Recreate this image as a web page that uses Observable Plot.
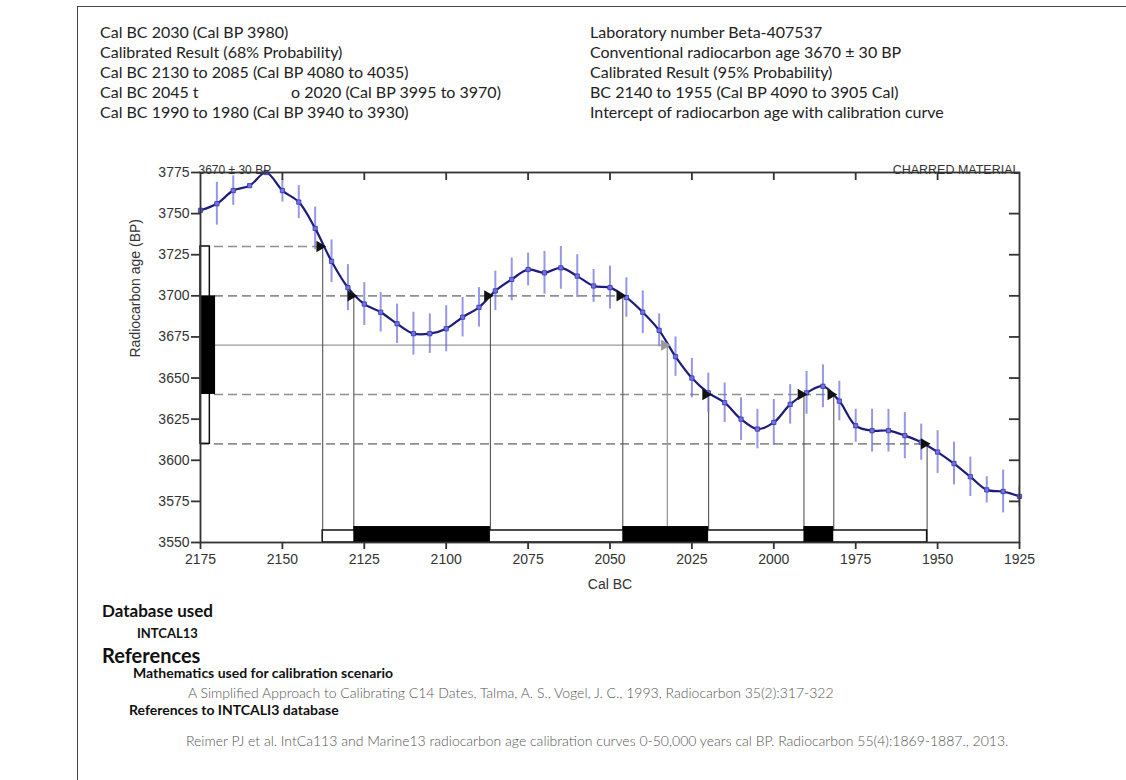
<!DOCTYPE html>
<html>
<head>
<meta charset="utf-8">
<script src="https://cdn.jsdelivr.net/npm/d3@7"></script>
<script src="https://cdn.jsdelivr.net/npm/@observablehq/plot@0.6"></script>
<style>
  html, body { margin: 0; padding: 0; background: #fff; }
  body { width: 1126px; height: 780px; position: relative; overflow: hidden; font-family: Lato, "Open Sans", sans-serif; color: #222; }
  .border { position: absolute; left: 77px; top: 6px; right: -2px; bottom: -2px; border-left: 1.5px solid #444; border-top: 1.5px solid #444; }
  .col { position: absolute; top: 22px; font-size: 16px; line-height: 20px; white-space: nowrap; }
  .ln { position: absolute; white-space: nowrap; line-height: 1.2; }
  .b { font-weight: 700; color: #111; }
  .lt { font-weight: 300; color: #555; font-size: 14px; }
  #chart { position: absolute; left: 80px; top: 150px; }
</style>
</head>
<body>
<div class="border"></div>
<div class="col" style="left:100px">
  <div>Cal BC 2030 (Cal BP 3980)</div>
  <div>Calibrated Result (68% Probability)</div>
  <div>Cal BC 2130 to 2085 (Cal BP 4080 to 4035)</div>
  <div><span style="display:inline-block;width:191px">Cal BC 2045 t</span>o 2020 (Cal BP 3995 to 3970)</div>
  <div>Cal BC 1990 to 1980 (Cal BP 3940 to 3930)</div>
</div>
<div class="col" style="left:590px">
  <div>Laboratory number Beta-407537</div>
  <div>Conventional radiocarbon age 3670 ± 30 BP</div>
  <div>Calibrated Result (95% Probability)</div>
  <div>BC 2140 to 1955 (Cal BP 4090 to 3905 Cal)</div>
  <div>Intercept of radiocarbon age with calibration curve</div>
</div>
<div id="chart"></div>
<div class="ln b" style="left:102px;top:601px;font-size:17px">Database used</div>
<div class="ln b" style="left:137px;top:626px;font-size:13px">INTCAL13</div>
<div class="ln b" style="left:102px;top:643px;font-size:20px">References</div>
<div class="ln b" style="left:133px;top:665px;font-size:14px">Mathematics used for calibration scenario</div>
<div class="ln lt" style="left:188px;top:685px">A Simplified Approach to Calibrating C14 Dates, Talma, A. S., Vogel, J. C., 1993, Radiocarbon 35(2):317-322</div>
<div class="ln b" style="left:129px;top:702px;font-size:14px">References to INTCALI3 database</div>
<div class="ln lt" style="left:186px;top:733px">Reimer PJ et al. IntCa113 and Marine13 radiocarbon age calibration curves 0-50,000 years cal BP. Radiocarbon 55(4):1869-1887., 2013.</div>
<script>
// Calibration curve (INTCAL13)
const years = [2175,2170,2165,2160,2155,2150,2145,2140,2135,2130,2125,2120,2115,2110,2105,2100,2095,2090,2085,2080,2075,2070,2065,2060,2055,2050,2045,2040,2035,2030,2025,2020,2015,2010,2005,2000,1995,1990,1985,1980,1975,1970,1965,1960,1955,1950,1945,1940,1935,1930,1925];
const ages = [3752,3756,3764,3767,3775,3764,3757,3741,3721,3705,3695,3690,3683,3677,3677,3680,3687,3693,3703,3710,3716,3714,3717,3712,3706,3705,3699,3690,3679,3663,3650,3641,3635,3625,3619,3623,3634,3641,3645,3636,3621,3618,3618,3615,3611,3605,3598,3590,3582,3581,3578];
const sigmas = [null,13,9,null,null,7,10,13,13,14,13,12,12,13,12,14,12,12,12,13,10,13,13,13,10,13,12,13,10,12,12,12,12,13,12,14,12,13,13,12,10,13,13,14,11,13,13,12,8,13,6];

// Sample
const sampleAge = 3670;
const sampleLabel = "3670 ± 30 BP";
const materialLabel = "CHARRED MATERIAL";
const oneSigma = [3640, 3700];
const twoSigma = [3610, 3730];

// Intercepts of the sigma levels with the curve (Cal BC)
const dashedAges = [3730, 3700, 3640, 3610];
const dashedEnds = [2137.7, 2046.1, 1981.7, 1953.2];
const interceptYears = [2137.7, 2128.2, 2086.5, 2046.1, 2019.9, 1990.8, 1981.7, 1953.2];
const interceptAges  = [3730, 3700, 3700, 3700, 3640, 3640, 3640, 3610];
const meanIntercept = 2032.5;

// Calibrated ranges (Cal BC)
const range95 = [[2137.7, 1953.2]];
const range68 = [[2128.2, 2086.5], [2046.1, 2019.9], [1990.8, 1981.7]];

const xTicks = [2175,2150,2125,2100,2075,2050,2025,2000,1975,1950,1925];
const yTicks = [3550,3575,3600,3625,3650,3675,3700,3725,3750,3775];

const curve = years.map((x, i) => ({x, y: ages[i], s: sigmas[i]}));
const bars = curve.filter(d => d.s != null);
const dashed = dashedAges.map((a, i) => ({age: a, end: dashedEnds[i]}));
const inter = interceptYears.map((x, i) => ({x, y: interceptAges[i]}));

const xMin = 2175, yMin = 3550;
const W = 1000, H = 450, mL = 120, mR = 61, mT = 22, mB = 58;
const pw = W - mL - mR, ph = H - mT - mB;
const bar95H = 7.3, bar68H = 9.7;   // heights in BP units
const left95W = 2.85, left68W = 4.6; // widths in years

const chart = Plot.plot({
  width: W, height: H,
  marginLeft: mL, marginRight: mR, marginTop: mT, marginBottom: mB,
  x: {domain: [2175, 1925]},
  y: {domain: [3550, 3775]},
  style: {fontFamily: "'Liberation Sans', Arial, sans-serif", fontSize: "14px", color: "#333", background: "transparent", overflow: "visible"},
  marks: [
    Plot.ruleY(dashed, {y: "age", x1: () => xMin, x2: "end", stroke: "#8f8f8f", strokeWidth: 1.6, strokeDasharray: "9,5"}),
    Plot.ruleY([sampleAge], {y: d => d, x1: () => xMin, x2: () => meanIntercept, stroke: "#9a9a9a", strokeWidth: 1.3}),
    Plot.ruleX(inter, {x: "x", y1: "y", y2: () => yMin, stroke: "#555", strokeWidth: 1.1}),
    Plot.ruleX([meanIntercept], {x: d => d, y1: () => sampleAge, y2: () => yMin + bar68H, stroke: "#9a9a9a", strokeWidth: 1.3}),
    Plot.rect(range95, {x1: d => d[0], x2: d => d[1], y1: () => yMin, y2: () => yMin + bar95H, fill: "white", stroke: "#111", strokeWidth: 1.5}),
    Plot.rect(range68, {x1: d => d[0], x2: d => d[1], y1: () => yMin, y2: () => yMin + bar68H, fill: "black"}),
    Plot.rect([twoSigma], {y1: d => d[0], y2: d => d[1], x1: () => xMin, x2: () => xMin - left95W, fill: "white", stroke: "#111", strokeWidth: 1.5}),
    Plot.rect([oneSigma], {y1: d => d[0], y2: d => d[1], x1: () => xMin, x2: () => xMin - left68W, fill: "black"}),
    Plot.ruleX(bars, {x: "x", y1: d => d.y - d.s, y2: d => d.y + d.s, stroke: "#7474dc", strokeOpacity: 0.75, strokeWidth: 2, clip: true}),
    Plot.line(curve, {x: "x", y: "y", stroke: "#1c1c7e", strokeWidth: 2.2, curve: "catmull-rom"}),
    Plot.dot(curve, {x: "x", y: "y", symbol: "square", r: 2.4, fill: "#7474dc", stroke: "#3434b4", strokeWidth: 0.8}),
    Plot.dot(inter, {x: "x", y: "y", symbol: "triangle", rotate: 90, r: 4.2, fill: "#111", dx: -3}),
    Plot.dot([{x: meanIntercept, y: sampleAge}], {x: "x", y: "y", symbol: "triangle", rotate: 90, r: 4.2, fill: "#9a9a9a", dx: -3}),
    Plot.frame({stroke: "#333", strokeWidth: 1.8}),
    Plot.axisX({anchor: "bottom", ticks: xTicks, tickSize: 7, tickPadding: 5, tickFormat: d => String(d), label: null, strokeWidth: 1.8}),
    Plot.axisY({anchor: "left", ticks: yTicks, tickSize: 9, tickPadding: 2, tickFormat: d => String(d), label: null, strokeWidth: 1.8}),
    Plot.ruleX(xTicks.slice(1, -1), {x: d => d, insetBottom: ph - 8, stroke: "#333", strokeWidth: 1.8}),
    Plot.ruleY(yTicks.slice(1, -1), {y: d => d, insetLeft: pw - 10, stroke: "#333", strokeWidth: 1.8}),
    Plot.text(["Radiocarbon age (BP)"], {frameAnchor: "left", rotate: -90, dx: -65, fontSize: 14, fill: "#333"}),
    Plot.text(["Cal BC"], {frameAnchor: "bottom", dy: 46, fontSize: 14, fill: "#333"}),
    Plot.text([sampleLabel], {frameAnchor: "top-left", textAnchor: "start", lineAnchor: "bottom", dx: -2, dy: 1, fontSize: 12, fill: "#333"}),
    Plot.text([materialLabel], {frameAnchor: "top-right", textAnchor: "end", lineAnchor: "bottom", dy: 1, fontSize: 12.5, fill: "#333"})
  ]
});
document.getElementById("chart").appendChild(chart);
</script>
</body>
</html>
